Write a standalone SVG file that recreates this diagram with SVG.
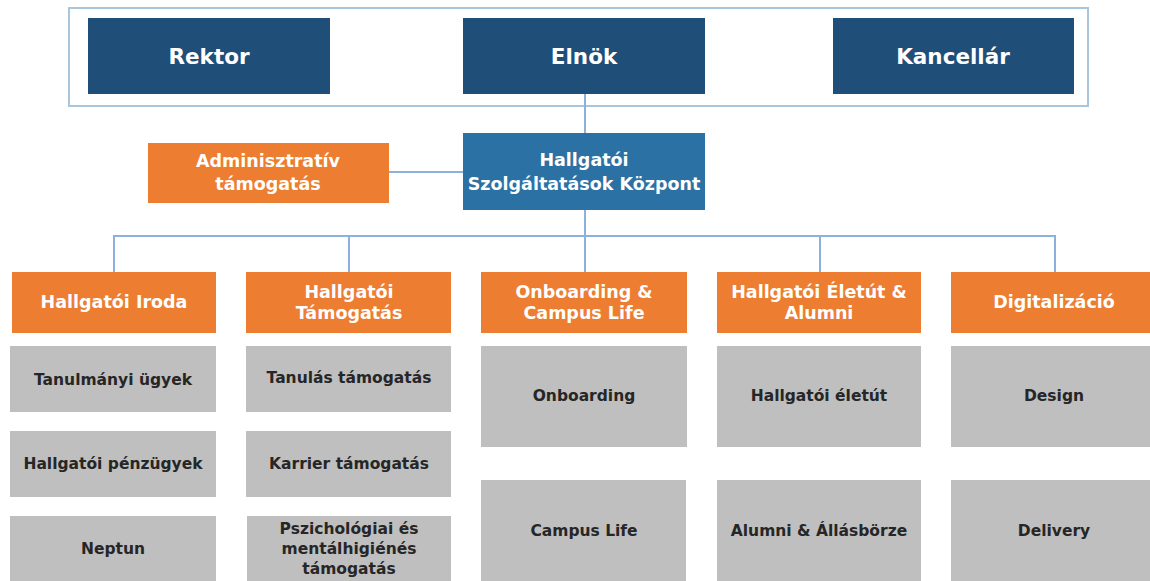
<svg xmlns="http://www.w3.org/2000/svg" width="1150" height="581" viewBox="0 0 1150 581">
<style>
text{font-family:"DejaVu Sans","Liberation Sans",sans-serif;font-weight:bold;text-anchor:middle}
.navy{fill:#1f4e79}
.mid{fill:#2c71a3}
.org{fill:#ed7d31}
.gry{fill:#bfbfbf}
.tw{fill:#ffffff}
.td{fill:#262626}
.t1{font-size:21.5px}
.t2{font-size:17.5px}
.t3{font-size:15.5px}
.ln{stroke:#8eb0dc;stroke-width:2;fill:none}
</style>
<rect x="69" y="8" width="1019" height="98" fill="none" stroke="#a9c6dc" stroke-width="2"/>
<g id="connectors">
<path class="ln" d="M585 94V133"/>
<path class="ln" d="M389 172H463"/>
<path class="ln" d="M585 210V236"/>
<path class="ln" d="M114 272V236H1055V272"/>
<path class="ln" d="M349 236V272"/>
<path class="ln" d="M585 236V272"/>
<path class="ln" d="M820 236V272"/>
</g>
<g id="rektor"><rect class="navy" x="88" y="18" width="242" height="76"/><text class="tw t1" x="209" y="64">Rektor</text></g>
<g id="elnok"><rect class="navy" x="463" y="18" width="242" height="76"/><text class="tw t1" x="584" y="64">Elnök</text></g>
<g id="kancellar"><rect class="navy" x="833" y="18" width="241" height="76"/><text class="tw t1" x="953" y="64">Kancellár</text></g>
<g id="hsk"><rect class="mid" x="463" y="133" width="242" height="77"/><text class="tw t2" x="584" y="166">Hallgatói</text><text class="tw t2" x="584" y="190">Szolgáltatások Központ</text></g>
<g id="admin"><rect class="org" x="148" y="143" width="241" height="60"/><text class="tw t2" x="268" y="167">Adminisztratív</text><text class="tw t2" x="268" y="190">támogatás</text></g>
<g id="iroda"><rect class="org" x="12" y="272" width="204" height="61"/><text class="tw t2" x="114" y="308">Hallgatói Iroda</text></g>
<g id="tamogatas"><rect class="org" x="246" y="272" width="205" height="61"/><text class="tw t2" x="349" y="298">Hallgatói</text><text class="tw t2" x="349" y="319">Támogatás</text></g>
<g id="onboarding-campus"><rect class="org" x="481" y="272" width="206" height="61"/><text class="tw t2" x="584" y="298">Onboarding &amp;</text><text class="tw t2" x="584" y="319">Campus Life</text></g>
<g id="eletut-alumni"><rect class="org" x="717" y="272" width="204" height="61"/><text class="tw t2" x="819" y="298">Hallgatói Életút &amp;</text><text class="tw t2" x="819" y="319">Alumni</text></g>
<g id="digitalizacio"><rect class="org" x="951" y="272" width="206" height="61"/><text class="tw t2" x="1054" y="308">Digitalizáció</text></g>
<g id="tanulmanyi"><rect class="gry" x="10" y="346" width="206" height="66"/><text class="td t3" x="113" y="385">Tanulmányi ügyek</text></g>
<g id="penzugyek"><rect class="gry" x="10" y="431" width="206" height="66"/><text class="td t3" x="113" y="469">Hallgatói pénzügyek</text></g>
<g id="neptun"><rect class="gry" x="10" y="516" width="206" height="70"/><text class="td t3" x="113" y="554">Neptun</text></g>
<g id="tanulas"><rect class="gry" x="246" y="346" width="205" height="66"/><text class="td t3" x="349" y="383">Tanulás támogatás</text></g>
<g id="karrier"><rect class="gry" x="246" y="431" width="205" height="66"/><text class="td t3" x="349" y="469">Karrier támogatás</text></g>
<g id="pszich"><rect class="gry" x="247" y="516" width="204" height="70"/><text class="td t3" x="349" y="534">Pszichológiai és</text><text class="td t3" x="349" y="554">mentálhigiénés</text><text class="td t3" x="349" y="574">támogatás</text></g>
<g id="onboarding"><rect class="gry" x="481" y="346" width="206" height="101"/><text class="td t3" x="584" y="401">Onboarding</text></g>
<g id="campuslife"><rect class="gry" x="481" y="480" width="205" height="106"/><text class="td t3" x="584" y="536">Campus Life</text></g>
<g id="eletut"><rect class="gry" x="717" y="346" width="204" height="101"/><text class="td t3" x="819" y="401">Hallgatói életút</text></g>
<g id="allasborze"><rect class="gry" x="717" y="480" width="204" height="106"/><text class="td t3" x="819" y="536">Alumni &amp; Állásbörze</text></g>
<g id="design"><rect class="gry" x="951" y="346" width="206" height="101"/><text class="td t3" x="1054" y="401">Design</text></g>
<g id="delivery"><rect class="gry" x="951" y="480" width="206" height="106"/><text class="td t3" x="1054" y="536">Delivery</text></g>
</svg>
